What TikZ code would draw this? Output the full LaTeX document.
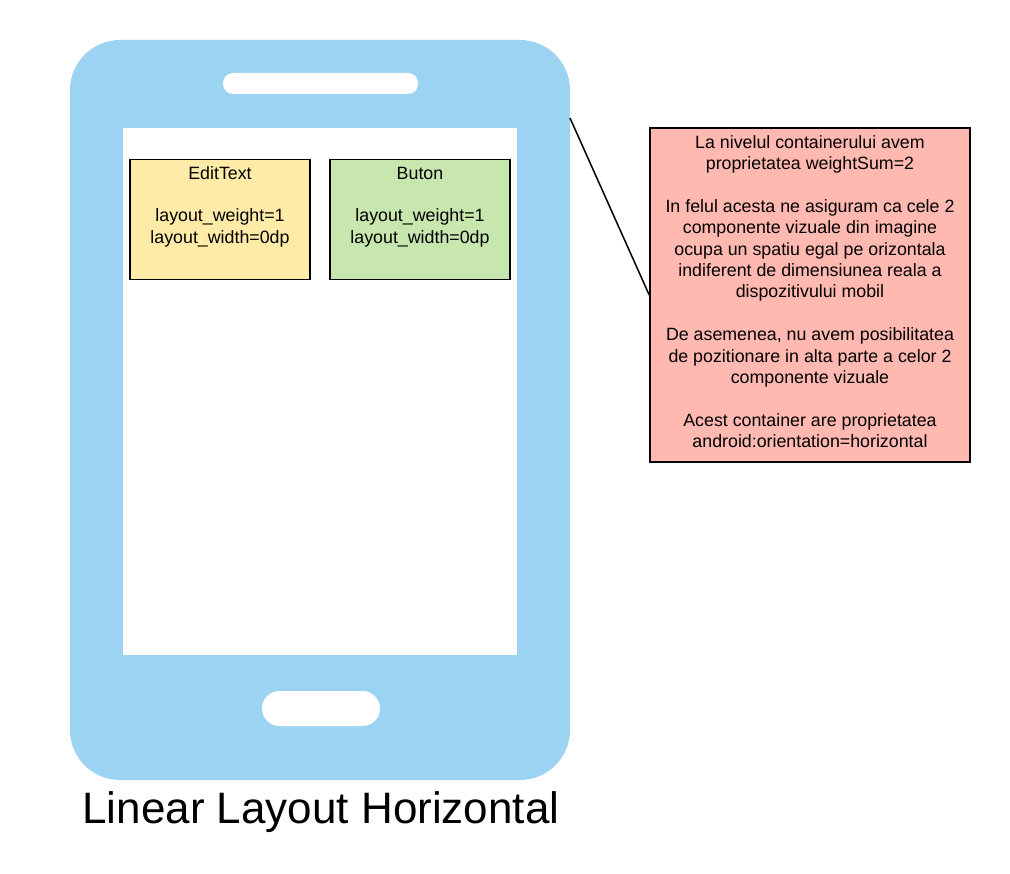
\documentclass[tikz,border=0pt]{standalone}
\usepackage{fontspec}
\setmainfont{Liberation Sans}
\definecolor{phoneblue}{RGB}{157,211,242}
\definecolor{edityellow}{RGB}{255,235,168}
\definecolor{butongreen}{RGB}{199,231,174}
\definecolor{notepink}{RGB}{255,185,176}
\tikzset{
  shapebox/.style={draw=none, rectangle, inner sep=0pt, outer sep=0pt},
  compbox/.style={draw=black, line width=1.6pt, rectangle, inner sep=0pt, outer sep=0pt, minimum width=180pt, minimum height=120pt},
  bodytext/.style={align=center, inner sep=0pt, font=\fontsize{17.8}{21.4}\selectfont},
}
\begin{document}
\begin{tikzpicture}[x=1pt,y=-1pt]
\useasboundingbox[fill=white] (0,0) rectangle (1010,874);
% phone
\node[shapebox, fill=phoneblue, rounded corners=50pt, minimum width=500pt, minimum height=740pt] (phone) at (320,410) {};
\node[shapebox, fill=white, rounded corners=10pt, minimum width=195pt, minimum height=21pt] (speaker) at (320.5,83.5) {};
\node[shapebox, fill=white, minimum width=394pt, minimum height=527pt] (screen) at (320,391.5) {};
\node[shapebox, fill=white, rounded corners=17.5pt, minimum width=118pt, minimum height=35pt] (home) at (321,708.5) {};
% components
\node[compbox, fill=edityellow] (edit) at (220,219.5) {};
\node[compbox, fill=butongreen] (buton) at (420,219.5) {};
\node[bodytext, anchor=north] (edittxt) at (220,164) {\strut EditText\\ \strut\\ layout\_weight=1\\ layout\_width=0dp};
\node[bodytext, anchor=north] (butontxt) at (420,164) {\strut Buton\\ \strut\\ layout\_weight=1\\ layout\_width=0dp};
% note
\node[draw=black, line width=1.6pt, fill=notepink, rectangle, inner sep=0pt, minimum width=320pt, minimum height=334pt] (note) at (810,295) {};
\node[bodytext, anchor=north] (notetxt) at (810,133) {\strut La nivelul containerului avem\\ proprietatea weightSum=2\\ \strut\\ In felul acesta ne asiguram ca cele 2\\ componente vizuale din imagine\\ ocupa un spatiu egal pe orizontala\\ indiferent de dimensiunea reala a\\ dispozitivului mobil\\ \strut\\ De asemenea, nu avem posibilitatea\\ de pozitionare in alta parte a celor 2\\ componente vizuale\\ \strut\\ Acest container are proprietatea\\ android:orientation=horizontal};
\coordinate (tip) at (phone.east |- 0,118);
\draw[line width=1.5pt, black] (tip) -- (note.west);
% title
\node[inner sep=0pt, anchor=base, font=\fontsize{44}{52}\selectfont] (title) at (321,823) {Linear Layout Horizontal};
\end{tikzpicture}
\end{document}
